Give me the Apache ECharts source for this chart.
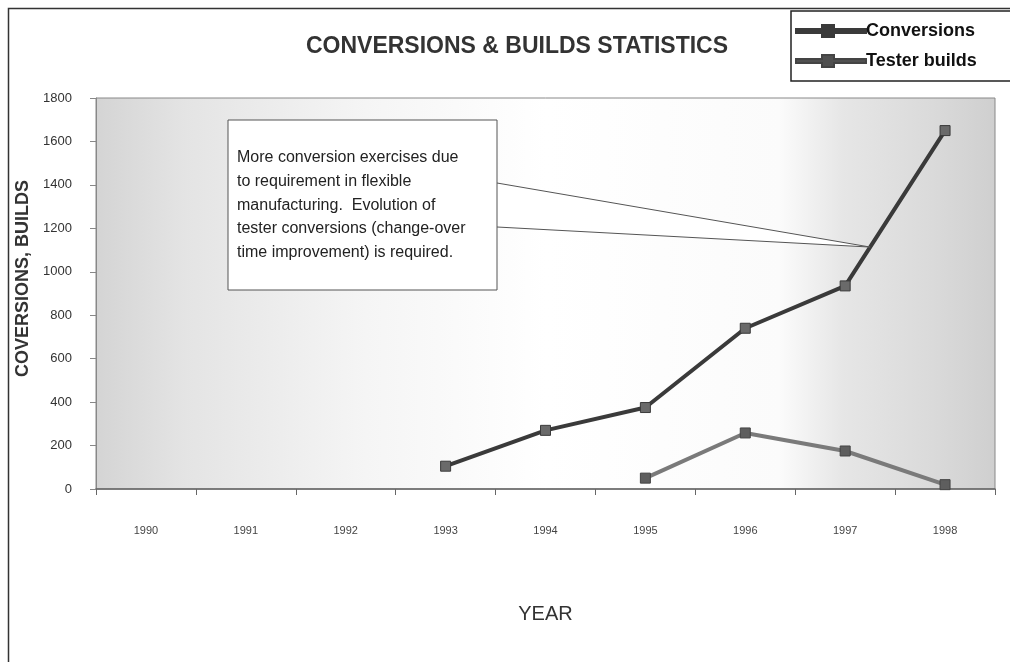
<!DOCTYPE html>
<html>
<head>
<meta charset="utf-8">
<script src="https://cdn.jsdelivr.net/npm/echarts@6/dist/echarts.min.js"></script>
<style>
html,body{margin:0;padding:0;background:#fff;}
#chart{width:1010px;height:662px;}
</style>
</head>
<body>
<div id="chart"></div>
<script>
const years = ['1990','1991','1992','1993','1994','1995','1996','1997','1998'];
const conversions = [null, null, null, 105, 270, 375, 740, 935, 1650];
const testerBuilds = [null, null, null, null, null, 50, 258, 175, 20];
const yTicks = { min: 0, max: 1800, interval: 200 };
const titleText = 'CONVERSIONS & BUILDS STATISTICS';
const yAxisName = 'COVERSIONS, BUILDS';
const xAxisName = 'YEAR';
const noteLines = [
  'More conversion exercises due',
  'to requirement in flexible',
  'manufacturing.  Evolution of',
  'tester conversions (change-over',
  'time improvement) is required.'
];

const chart = echarts.init(document.getElementById('chart'));
const legendIcon = 'path://M0,4 H26 V0 H38 V4 H70 V8 H38 V12 H26 V8 H0 Z';

const option = {
  backgroundColor: '#fff',
  animation: false,
  title: {
    text: titleText,
    left: 512,
    top: 30,
    textAlign: 'center',
    textStyle: { fontFamily: 'Liberation Sans, Arial', fontWeight: 'bold', fontSize: 23, color: '#333' }
  },
  legend: {
    orient: 'vertical',
    left: 791,
    top: 11,
    padding: [11, 60, 11, 4],
    itemGap: 12,
    itemWidth: 70,
    itemHeight: 12,
    borderColor: '#222',
    borderWidth: 1.5,
    textStyle: { fontFamily: 'Liberation Sans, Arial', fontWeight: 'bold', fontSize: 18, color: '#111', padding: [0,0,0,-5] },
    data: [
      { name: 'Conversions', icon: legendIcon, itemStyle: { color: '#3a3a3a' } },
      { name: 'Tester builds', icon: legendIcon, itemStyle: { color: '#505050' } }
    ]
  },
  grid: {
    left: 96, right: 15, top: 98, bottom: 173,
    show: true,
    borderColor: '#888',
    borderWidth: 1,
    backgroundColor: {
      type: 'linear', x: 0, y: 0, x2: 1, y2: 0,
      colorStops: [
        { offset: 0, color: '#d4d4d4' },
        { offset: 0.1, color: '#e4e4e4' },
        { offset: 0.3, color: '#f5f5f5' },
        { offset: 0.5, color: '#ffffff' },
        { offset: 0.76, color: '#fbfbfb' },
        { offset: 0.83, color: '#e6e6e6' },
        { offset: 0.93, color: '#dadada' },
        { offset: 1, color: '#cfcfcf' }
      ]
    }
  },
  xAxis: {
    type: 'category',
    data: years,
    boundaryGap: true,
    name: xAxisName,
    nameLocation: 'middle',
    nameGap: 115,
    nameTextStyle: { fontFamily: 'Liberation Sans, Arial', fontSize: 20, color: '#333' },
    axisLine: { lineStyle: { color: '#666', width: 1.5 } },
    axisTick: { show: true, length: 6, lineStyle: { color: '#666' } },
    axisLabel: { margin: 36, fontFamily: 'Liberation Sans Narrow, Liberation Sans, Arial', fontSize: 11, color: '#444' },
    splitLine: { show: false }
  },
  yAxis: {
    type: 'value',
    min: yTicks.min, max: yTicks.max, interval: yTicks.interval,
    name: yAxisName,
    nameLocation: 'middle',
    nameGap: 57,
    nameTextStyle: { fontFamily: 'Liberation Sans, Arial', fontWeight: 'bold', fontSize: 18, color: '#333', padding: [0, 0, 0, 30] },
    axisLine: { show: true, lineStyle: { color: '#888', width: 1 } },
    axisTick: { show: true, length: 6, lineStyle: { color: '#888' } },
    axisLabel: { margin: 24, fontFamily: 'Liberation Sans, Arial', fontSize: 13, color: '#333', formatter: v => String(v) },
    splitLine: { show: false }
  },
  series: [
    {
      name: 'Conversions',
      type: 'line',
      data: conversions,
      symbol: 'rect',
      symbolSize: 10,
      lineStyle: { color: '#3a3a3a', width: 4 },
      itemStyle: { color: '#6a6a6a', borderColor: '#3a3a3a', borderWidth: 1 },
      z: 3
    },
    {
      name: 'Tester builds',
      type: 'line',
      data: testerBuilds,
      symbol: 'rect',
      symbolSize: 10,
      lineStyle: { color: '#7a7a7a', width: 4 },
      itemStyle: { color: '#5e5e5e', borderColor: '#444', borderWidth: 1 },
      z: 3
    }
  ]
};
chart.setOption(option);

// annotation callout, pointing at a spot on the 1997-1998 conversions segment
const p1 = chart.convertToPixel({ gridIndex: 0 }, [7, conversions[7]]);
const p2 = chart.convertToPixel({ gridIndex: 0 }, [8, conversions[8]]);
const t = 0.25;
const tip = [p1[0] + (p2[0] - p1[0]) * t, p1[1] + (p2[1] - p1[1]) * t];
const box = { x: 228, y: 120, w: 269, h: 170 };

chart.setOption({
  graphic: [
    { type: 'rect', z: 0, silent: true,
      shape: { x: 8.5, y: 8.5, width: 1100, height: 800 },
      style: { fill: 'none', stroke: '#333', lineWidth: 1.5 } },
    { type: 'polyline', z: 10, silent: true,
      shape: { points: [[box.x + box.w, box.y + 63], tip, [box.x + box.w, box.y + 107]] },
      style: { fill: '#ffffff', stroke: '#555', lineWidth: 1 } },
    { type: 'rect', z: 11, silent: true,
      shape: { x: box.x, y: box.y, width: box.w, height: box.h },
      style: { fill: '#ffffff', stroke: '#555', lineWidth: 1 } },
    { type: 'text', z: 12, silent: true, x: box.x + 9, y: box.y + 26,
      style: { text: noteLines.join('\n'), fill: '#222', fontFamily: 'Liberation Sans, Arial', fontSize: 16, lineHeight: 23.7 } }
  ]
});
</script>
</body>
</html>
